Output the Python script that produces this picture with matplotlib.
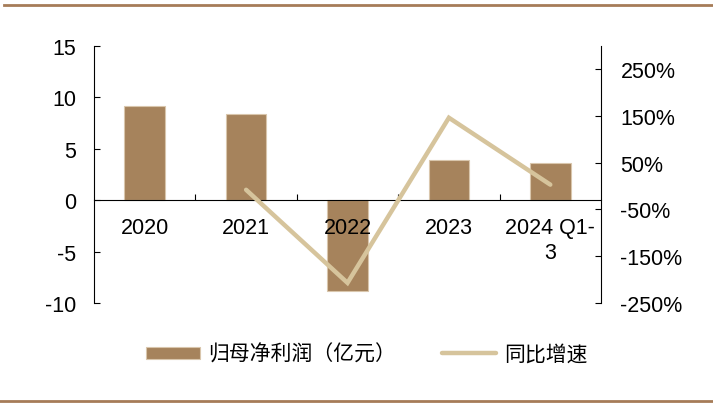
import matplotlib
matplotlib.use("Agg")
import matplotlib.pyplot as plt
from matplotlib.lines import Line2D
from matplotlib.ticker import FuncFormatter, FixedLocator

plt.rcParams['font.family'] = ['Liberation Sans', 'Noto Sans CJK SC', 'DejaVu Sans']
plt.rcParams['axes.unicode_minus'] = False

categories = ["2020", "2021", "2022", "2023", "2024 Q1-\n3"]
net_profit = [9.13, 8.36, -8.84, 3.89, 3.60]          # 归母净利润（亿元）
yoy_growth = [None, -8.0, -207.0, 146.0, 3.0]          # 同比增速 (%)
left_ticks = [-10, -5, 0, 5, 10, 15]
right_ticks = [-250, -150, -50, 50, 150, 250]

bar_color = "#A6835C"
line_color = "#D6C49C"
rule_color = "#A67C58"
FS = 15.5

fig = plt.figure(figsize=(7.13, 4.10), dpi=100)
ax = fig.add_axes([94/713, 1-304/410, (601-94)/713, (304-46.7)/410])
ax2 = ax.twinx()
ax.set_axisbelow(False)

x = list(range(len(categories)))
ax.bar(x, net_profit, width=0.4, color=bar_color, edgecolor="#D9C6AC", linewidth=0.8,
       label="归母净利润（亿元）", zorder=2)

lx = [i for i, v in zip(x, yoy_growth) if v is not None]
ly = [v for v in yoy_growth if v is not None]
ax2.plot(lx, ly, color=line_color, linewidth=3.2, solid_capstyle='round',
         solid_joinstyle='miter', label="同比增速", zorder=3)

ax.set_xlim(-0.5, len(categories) - 0.5)
ax.set_ylim(-10, 15)
ax.set_yticks(left_ticks)
ax2.set_ylim(-250, 300)
ax2.set_yticks(right_ticks)
ax2.yaxis.set_major_formatter(FuncFormatter(lambda v, p: f"{v:.0f}%"))

for s in ["top"]:
    ax.spines[s].set_visible(False)
    ax2.spines[s].set_visible(False)
ax2.spines["bottom"].set_visible(False)
ax2.spines["left"].set_visible(False)
ax.spines["right"].set_visible(False)
ax.spines["bottom"].set_position(("data", 0))
for sp in [ax.spines["left"], ax.spines["bottom"], ax2.spines["right"]]:
    sp.set_linewidth(0.8)
    sp.set_color("black")

ax.set_xticks(x)
ax.set_xticklabels(categories)
ax.xaxis.set_minor_locator(FixedLocator([0.5, 1.5, 2.5, 3.5]))
ax.tick_params(axis='x', which='major', length=0, pad=12.5, labelsize=FS)
ax.tick_params(axis='x', which='minor', direction='in', length=4.3, width=0.8)
for lbl in ax.get_xticklabels():
    lbl.set_linespacing(1.2)
    lbl.set_verticalalignment('top')

ax.tick_params(axis='y', direction='in', length=4.3, width=0.8, pad=13, labelsize=FS)
ax2.tick_params(axis='y', direction='in', length=4.3, width=0.8, pad=14, labelsize=FS)

h1, l1 = ax.get_legend_handles_labels()
h2, l2 = ax2.get_legend_handles_labels()
leg = fig.legend(h1 + h2, l1 + l2, loc='center', bbox_to_anchor=(367/713, 1-355/410),
                 ncol=2, frameon=False, prop={'family': ['Noto Sans CJK SC'], 'size': 15},
                 handlelength=2.6, handleheight=0.5, handletextpad=0.4, columnspacing=2.2)

fig.add_artist(Line2D([4/713, 1.0], [1-6/410, 1-6/410], transform=fig.transFigure,
                      color=rule_color, linewidth=2))
fig.add_artist(Line2D([0.0, 1.0], [1-402/410, 1-402/410], transform=fig.transFigure,
                      color=rule_color, linewidth=2))

fig.savefig("out.png", dpi=100)
